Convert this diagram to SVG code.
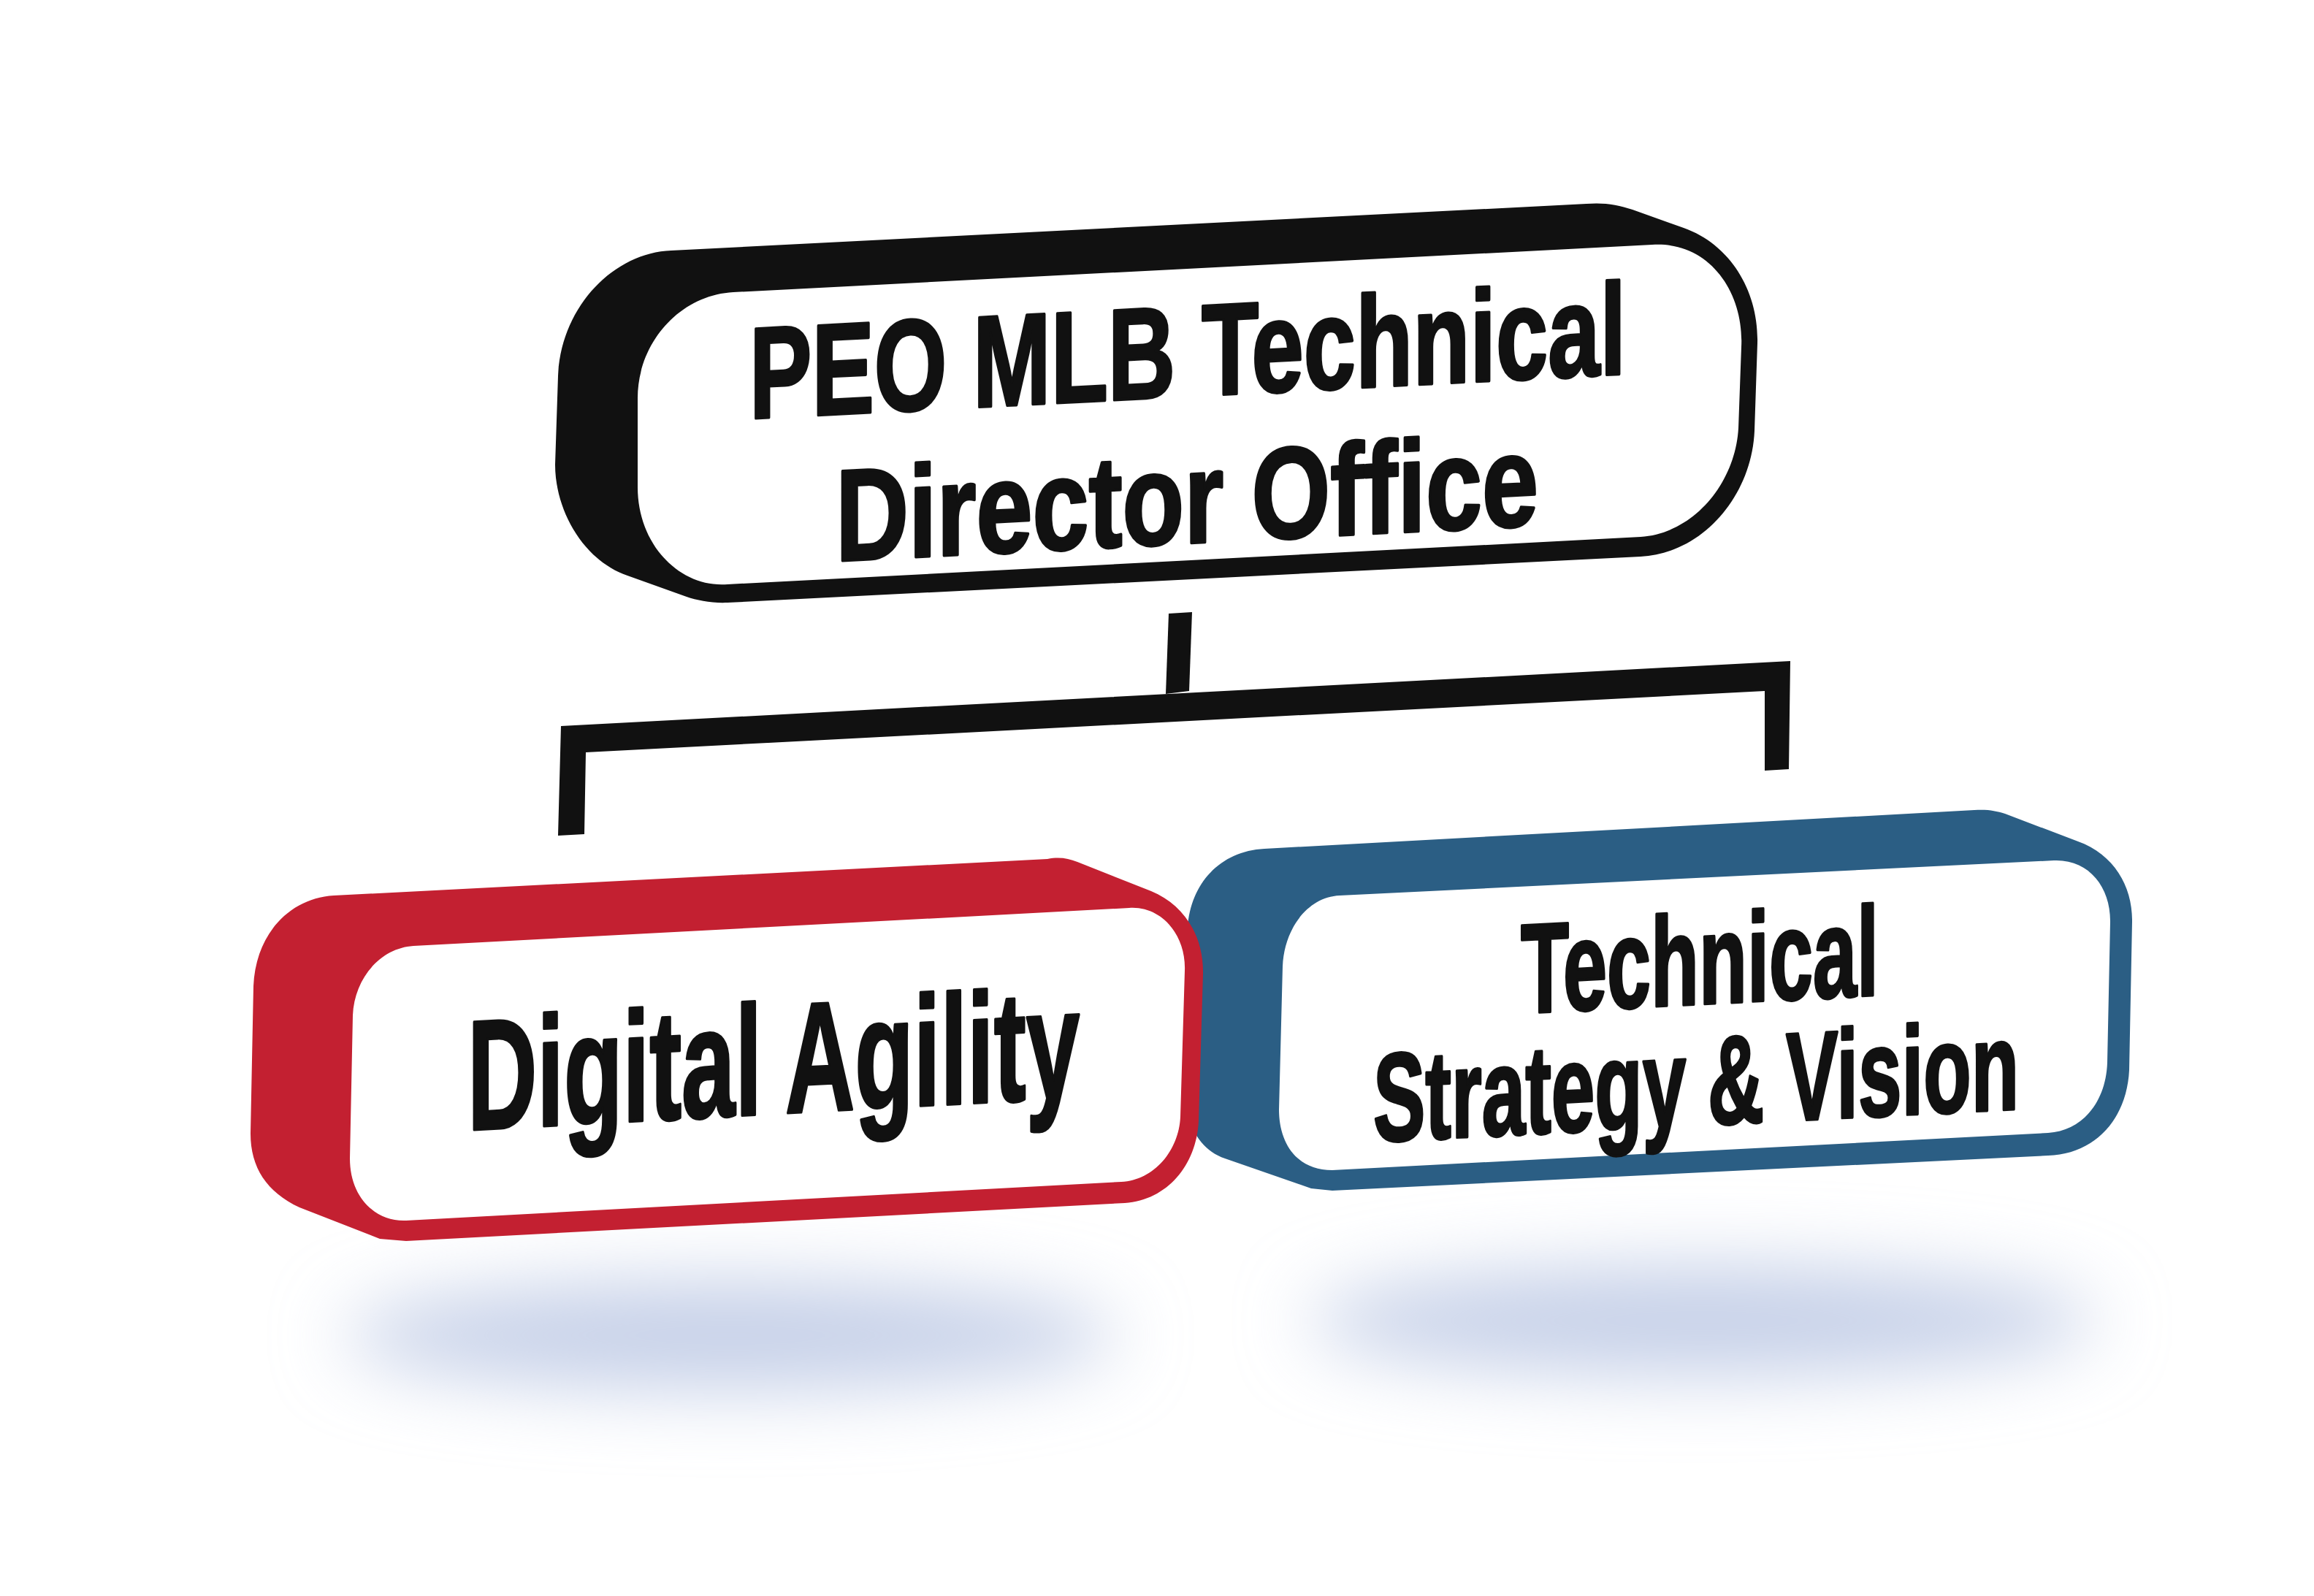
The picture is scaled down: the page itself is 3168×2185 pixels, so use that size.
<svg xmlns="http://www.w3.org/2000/svg" width="3168" height="2185" viewBox="0 0 3168 2185">
  <style>
    .lbl { font-family: "Liberation Sans", "DejaVu Sans", sans-serif; font-weight: bold; fill: #111111; stroke: #111111; stroke-width: 4; stroke-linejoin: round; }
    .face { fill: #ffffff; }
    .conn { fill: #111111; }
  </style>
  <defs>
    <filter id="blur" x="-50%" y="-100%" width="200%" height="300%">
      <feGaussianBlur stdDeviation="50"/>
    </filter>
  </defs>
  <rect width="3168" height="2185" fill="#ffffff"/>

  <g id="shadows">
    <ellipse cx="1000" cy="1828" rx="530" ry="75" fill="#c6d0e8" filter="url(#blur)"/>
    <ellipse cx="2330" cy="1808" rx="540" ry="75" fill="#c6d0e8" filter="url(#blur)"/>
  </g>

  <g id="connectors">
    <path class="conn" d="M1600,840 L1632,838 L1628,946 L1596,950 Z"/>
    <path class="conn" d="M768,994 L2451,905 L2449,1053 L2416,1055 L2416,946 L802,1030 L800,1142 L764,1144 Z"/>
  </g>

  <g id="node-top">
    <path fill="#111111" d="M919,343 L2172,279 C2195,277 2215,280 2235,287 L2305,312 C2370,335 2408,400 2406,470 L2402,590 C2398,680 2330,758 2246,762 L996,825 C975,826 955,822 940,817 L859,788 C800,768 760,700 760,636 L764,515 C768,420 840,346 919,343 Z"/>
    <path class="face" d="M1004,400 L2262,335 C2340,330 2388,400 2384,475 L2380,586 C2376,660 2320,730 2246,735 L996,800 C930,805 873,745 873,667 L873,545 C873,470 930,404 1004,400 Z"/>
    <text class="lbl" font-size="178" transform="translate(1026,573) skewY(-2.92)" textLength="1200" lengthAdjust="spacingAndGlyphs">PEO MLB Technical</text>
    <text class="lbl" font-size="178" transform="translate(1144,768) skewY(-2.92)" textLength="962" lengthAdjust="spacingAndGlyphs">Director Office</text>
  </g>

  <g id="node-technical-strategy">
    <path fill="#2b5e84" d="M1731,1162 L2703,1109 C2722,1108 2732,1110 2745,1114 L2845,1152 C2895,1170 2920,1215 2919,1262 L2915,1465 C2912,1530 2870,1580 2804,1582 L1824,1630 L1795,1627 L1677,1586 C1645,1575 1625,1545 1624,1500 L1626,1270 C1630,1210 1670,1165 1731,1162 Z"/>
    <path class="face" d="M1834,1226 L2812,1178 C2860,1176 2890,1215 2889,1263 L2885,1455 C2883,1510 2850,1548 2804,1551 L1824,1602 C1775,1602 1751,1565 1751,1519 L1756,1323 C1758,1272 1790,1228 1834,1226 Z"/>
    <text class="lbl" font-size="174" transform="translate(2082,1387) skewY(-2.9)" textLength="490" lengthAdjust="spacingAndGlyphs">Technical</text>
    <text class="lbl" font-size="172" transform="translate(1880,1563) skewY(-2.9)" textLength="884" lengthAdjust="spacingAndGlyphs">Strategy &amp; Vision</text>
  </g>

  <g id="node-digital-agility">
    <path fill="#c32031" d="M457,1226 L1434,1176 C1450,1173 1462,1175 1475,1180 L1576,1220 C1620,1238 1648,1280 1647,1333 L1641,1535 C1638,1595 1598,1643 1540,1647 L556,1699 L520,1696 L410,1653 C365,1632 343,1598 343,1552 L347,1350 C350,1280 395,1230 457,1226 Z"/>
    <path class="face" d="M566,1295 L1546,1243 C1590,1240 1624,1280 1622,1329 L1616,1529 C1614,1575 1580,1616 1535,1618 L556,1671 C515,1673 479,1640 479,1586 L483,1390 C485,1340 520,1298 566,1295 Z"/>
    <text class="lbl" font-size="214" transform="translate(640,1547) skewY(-3.06)" textLength="838" lengthAdjust="spacingAndGlyphs">Digital Agility</text>
  </g>
</svg>
